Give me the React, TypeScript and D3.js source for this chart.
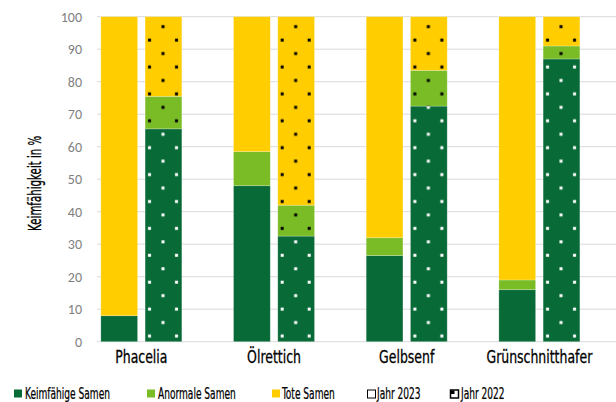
import React from "react";
import * as d3 from "d3";

const categories = ["Phacelia", "Ölrettich", "Gelbsenf", "Grünschnitthafer"];
const years = ["Jahr 2023", "Jahr 2022"];
const seriesNames = ["Keimfähige Samen", "Anormale Samen", "Tote Samen"];
const keim2023 = [8, 48, 26.5, 16];
const anorm2023 = [0, 10.5, 5.5, 3];
const tote2023 = [92, 41.5, 68, 81];
const keim2022 = [65.5, 32.5, 72.5, 87];
const anorm2022 = [10, 9.5, 11, 4];
const tote2022 = [24.5, 58, 16.5, 9];
const yTicks = [0, 10, 20, 30, 40, 50, 60, 70, 80, 90, 100];

const colors = ["#086a37", "#7abc25", "#ffcd00"];
const dotColors = ["#ffffff", "#000000", "#000000"];

const W = 616;
const H = 402;
const narrow = "'Liberation Sans Narrow', 'DejaVu Sans Condensed', sans-serif";
const tickFont = "Carlito, 'Liberation Sans', Arial, sans-serif";

type Row = { cat: string; s0: number; s1: number; s2: number };

function buildRows(a: number[], b: number[], c: number[]): Row[] {
  return categories.map((cat, i) => ({ cat, s0: a[i], s1: b[i], s2: c[i] }));
}

export default function App() {
  const y = d3.scaleLinear().domain([0, 100]).range([341.7, 16.7]);
  const x = d3.scaleBand<string>().domain(categories).range([75, 605.7]).padding(0);
  const xi = d3
    .scaleBand<string>()
    .domain(years)
    .range([25.85, 106.85])
    .paddingInner(0.17)
    .paddingOuter(0);

  const stack = d3.stack<Row>().keys(["s0", "s1", "s2"]);
  const stacked = [
    stack(buildRows(keim2023, anorm2023, tote2023)),
    stack(buildRows(keim2022, anorm2022, tote2022)),
  ];

  const bw = xi.bandwidth();
  const tileW = 27;
  const tileH = 26.9;

  const patterns: React.ReactNode[] = [];
  categories.forEach((cat, ci) => {
    const bx = (x(cat) ?? 0) + (xi(years[1]) ?? 0);
    seriesNames.forEach((_, si) => {
      patterns.push(
        <pattern
          key={`p-${ci}-${si}`}
          id={`p-${ci}-${si}`}
          patternUnits="userSpaceOnUse"
          x={bx}
          y={y(0)}
          width={tileW}
          height={tileH}
        >
          <rect width={tileW} height={tileH} fill={colors[si]} />
          <rect x={4.4 - 1.5} y={21.2 - 1.5} width={3} height={3} fill={dotColors[si]} />
          <rect x={17.9 - 1.5} y={7.75 - 1.5} width={3} height={3} fill={dotColors[si]} />
        </pattern>
      );
    });
  });

  const legendItems = [
    { label: seriesNames[0], sx: 14, tx: 25, kind: "c0" },
    { label: seriesNames[1], sx: 147, tx: 158, kind: "c1" },
    { label: seriesNames[2], sx: 272, tx: 282, kind: "c2" },
    { label: years[0], sx: 367, tx: 377, kind: "y0" },
    { label: years[1], sx: 450, tx: 461, kind: "y1" },
  ];

  return (
    <svg
      width={W}
      height={H}
      style={{ position: "absolute", left: 0, top: 0, background: "#fff" }}
    >
      <defs>{patterns}</defs>
      {yTicks.map((t) => (
        <g key={t}>
          <line x1={97} x2={616} y1={y(t)} y2={y(t)} stroke="#d9d9d9" strokeWidth={1} />
          <text
            x={82}
            y={y(t)}
            dy="0.35em"
            textAnchor="end"
            fontFamily={tickFont}
            fontSize={14}
            fill="#7f7f7f"
          >
            {t}
          </text>
        </g>
      ))}
      {stacked.map((layers, yi) =>
        layers.map((layer, si) =>
          layer.map((d, ci) => {
            const v0 = d[0];
            const v1 = d[1];
            if (v1 - v0 <= 0) return null;
            const bx = (x(d.data.cat) ?? 0) + (xi(years[yi]) ?? 0);
            return (
              <rect
                key={`${yi}-${si}-${ci}`}
                x={bx}
                y={y(v1)}
                width={bw}
                height={y(v0) - y(v1)}
                fill={yi === 0 ? colors[si] : `url(#p-${ci}-${si})`}
                stroke="#ffffff"
                strokeOpacity={0.3}
                strokeWidth={0.75}
              />
            );
          })
        )
      )}
      {categories.map((cat) => (
        <text
          key={cat}
          transform={`translate(${(x(cat) ?? 0) + x.bandwidth() / 2}, 363) scale(0.75, 1)`}
          textAnchor="middle"
          fontFamily={narrow}
          fontSize={18.5}
          fill="#000"
          stroke="#000"
          strokeWidth={0.3}
        >
          {cat}
        </text>
      ))}
      <text
        transform={`translate(41, 183.3) rotate(-90) scale(0.67, 1)`}
        textAnchor="middle"
        fontFamily={narrow}
        fontSize={17}
        fill="#000"
        stroke="#000"
        strokeWidth={0.3}
      >
        Keimfähigkeit in %
      </text>
      {legendItems.map((it) => (
        <g key={it.label}>
          {it.kind.startsWith("c") ? (
            <rect x={it.sx} y={389.5} width={8} height={8} fill={colors[+it.kind[1]]} />
          ) : it.kind === "y0" ? (
            <rect x={it.sx + 0.5} y={390} width={8} height={8} fill="#fff" stroke="#000" strokeWidth={1} />
          ) : (
            <g>
              <rect x={it.sx + 0.5} y={390} width={8} height={8} fill="#fff" stroke="#000" strokeWidth={1.5} />
              <rect x={it.sx + 1} y={390.5} width={3.5} height={3.5} fill="#000" />
            </g>
          )}
          <text
            transform={`translate(${it.tx}, 398.5) scale(0.65, 1)`}
            fontFamily={narrow}
            fontSize={15.5}
            fill="#000"
            stroke="#000"
            strokeWidth={0.25}
          >
            {it.label}
          </text>
        </g>
      ))}
    </svg>
  );
}
